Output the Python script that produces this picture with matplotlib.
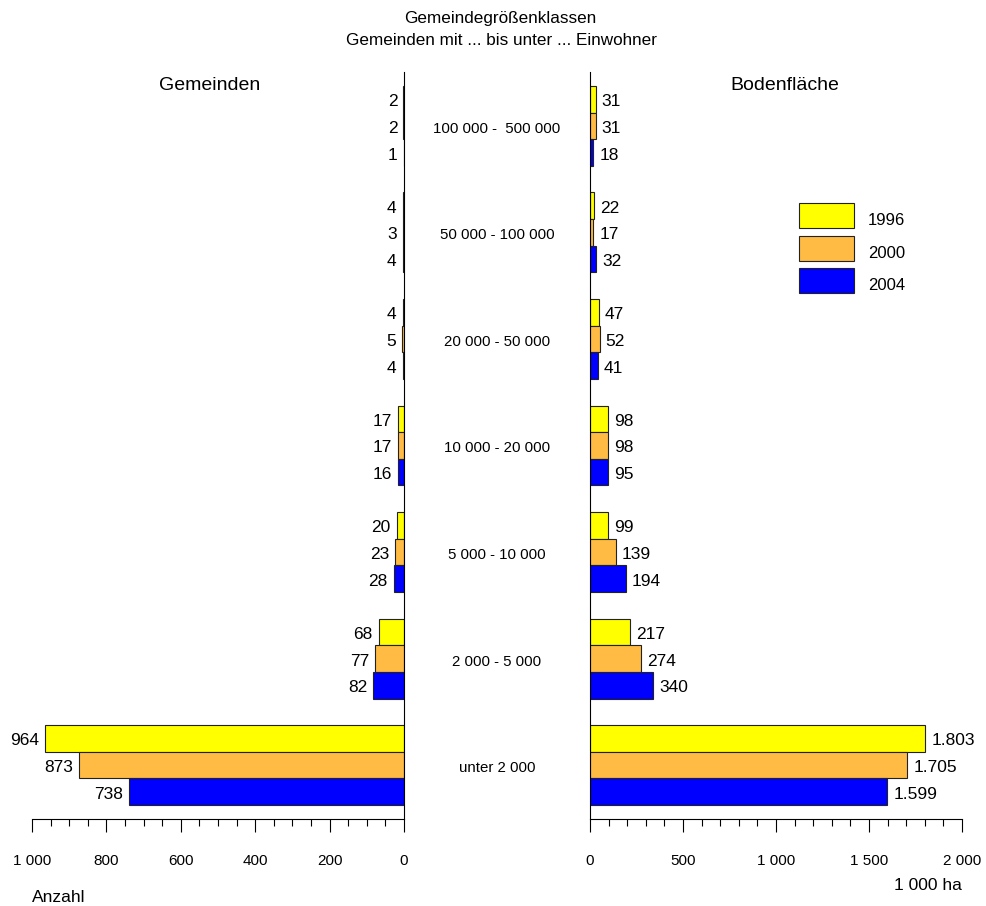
import matplotlib
matplotlib.use("Agg")
import matplotlib.pyplot as plt
from matplotlib.patches import Rectangle
from matplotlib.ticker import MultipleLocator, FixedLocator
import numpy as np

plt.rcParams['font.family'] = ['Liberation Sans', 'DejaVu Sans']

categories = ["100 000 -  500 000", "50 000 - 100 000", "20 000 - 50 000",
              "10 000 - 20 000", "5 000 - 10 000", "2 000 - 5 000", "unter 2 000"]
years = ["1996", "2000", "2004"]
colors = ["#FFFF00", "#FFBB44", "#0000FF"]

gemeinden = {
    "1996": [2, 4, 4, 17, 20, 68, 964],
    "2000": [2, 3, 5, 17, 23, 77, 873],
    "2004": [1, 4, 4, 16, 28, 82, 738],
}
boden = {
    "1996": [31, 22, 47, 98, 99, 217, 1803],
    "2000": [31, 17, 52, 98, 139, 274, 1705],
    "2004": [18, 32, 41, 95, 194, 340, 1599],
}
left_ticks = [1000, 800, 600, 400, 200, 0]
left_ticklabels = ["1 000", "800", "600", "400", "200", "0"]
right_ticks = [0, 500, 1000, 1500, 2000]
right_ticklabels = ["0", "500", "1 000", "1 500", "2 000"]

W, H = 986, 906
fig = plt.figure(figsize=(W / 100, H / 100), dpi=100)

ax_top, ax_bot = 72, 819
axL = fig.add_axes([32 / W, (H - ax_bot) / H, 372 / W, (ax_bot - ax_top) / H])
axR = fig.add_axes([590 / W, (H - ax_bot) / H, 372 / W, (ax_bot - ax_top) / H])

y = np.arange(len(categories))
bh = 0.25
offsets = [-0.25, 0.0, 0.25]
VAL_FS = 12.5

def fmt_dot(v):
    return f"{v:,}".replace(",", ".")

for k, yr in enumerate(years):
    vals = gemeinden[yr]
    axL.barh(y + offsets[k], vals, height=bh, color=colors[k], edgecolor="#222222", linewidth=0.8)
    for yi, v in zip(y, vals):
        axL.annotate(str(v), (v, yi + offsets[k]), xytext=(-6, -2.5), textcoords="offset pixels",
                     ha="right", va="center", fontsize=VAL_FS)
    vals = boden[yr]
    axR.barh(y + offsets[k], vals, height=bh, color=colors[k], edgecolor="#222222", linewidth=0.8)
    for yi, v in zip(y, vals):
        axR.annotate(fmt_dot(v), (v, yi + offsets[k]), xytext=(6, -2.5), textcoords="offset pixels",
                     ha="left", va="center", fontsize=VAL_FS)

for ax in (axL, axR):
    ax.set_ylim(6.506, -0.506)
    ax.set_yticks([])
    ax.spines['top'].set_visible(False)
    ax.tick_params(axis='x', which='major', direction='out', length=9.5, width=0.8,
                   pad=15.5, labelsize=11)
    ax.tick_params(axis='x', which='minor', direction='out', length=5, width=0.8)
    ax.patch.set_alpha(0)

axL.set_xlim(1000, 0)
axL.spines['left'].set_visible(False)
axL.xaxis.set_major_locator(FixedLocator(left_ticks))
axL.set_xticklabels(left_ticklabels)
axL.xaxis.set_minor_locator(MultipleLocator(50))

axR.set_xlim(0, 2000)
axR.spines['right'].set_visible(False)
axR.xaxis.set_major_locator(FixedLocator(right_ticks))
axR.set_xticklabels(right_ticklabels)
axR.xaxis.set_minor_locator(MultipleLocator(100))

# category labels in the middle
for yi, c in zip(y, categories):
    fig.text(497 / W, 1 - (ax_top + (yi + 0.506) * (ax_bot - ax_top) / 7.012 + 3) / H, c,
             ha="center", va="center", fontsize=10.8)

fig.text(500 / W, 1 - 18.5 / H, "Gemeindegrößenklassen", ha="center", va="center", fontsize=12.3)
fig.text(502 / W, 1 - 40.5 / H, "Gemeinden mit ... bis unter ... Einwohner", ha="center", va="center", fontsize=12.3)
fig.text(210 / W, 1 - 85.5 / H, "Gemeinden", ha="center", va="center", fontsize=14)
fig.text(785 / W, 1 - 85.5 / H, "Bodenfläche", ha="center", va="center", fontsize=14)
fig.text(32 / W, 1 - 897 / H, "Anzahl", ha="left", va="center", fontsize=12.5)
fig.text(962 / W, 1 - 886 / H, "1 000 ha", ha="right", va="center", fontsize=12.5)

# legend (manual)
leg_tops = [203, 236, 268]
for c, yr, t in zip(colors, years, leg_tops):
    fig.patches.append(Rectangle((799 / W, 1 - (t + 25) / H), 55 / W, 25 / H,
                                 facecolor=c, edgecolor="#222222", linewidth=0.8,
                                 transform=fig.transFigure, figure=fig))
    fig.text(868 / W, 1 - (t + 17.5) / H, yr, ha="left", va="center", fontsize=12)

fig.savefig("out.png", dpi=100)
